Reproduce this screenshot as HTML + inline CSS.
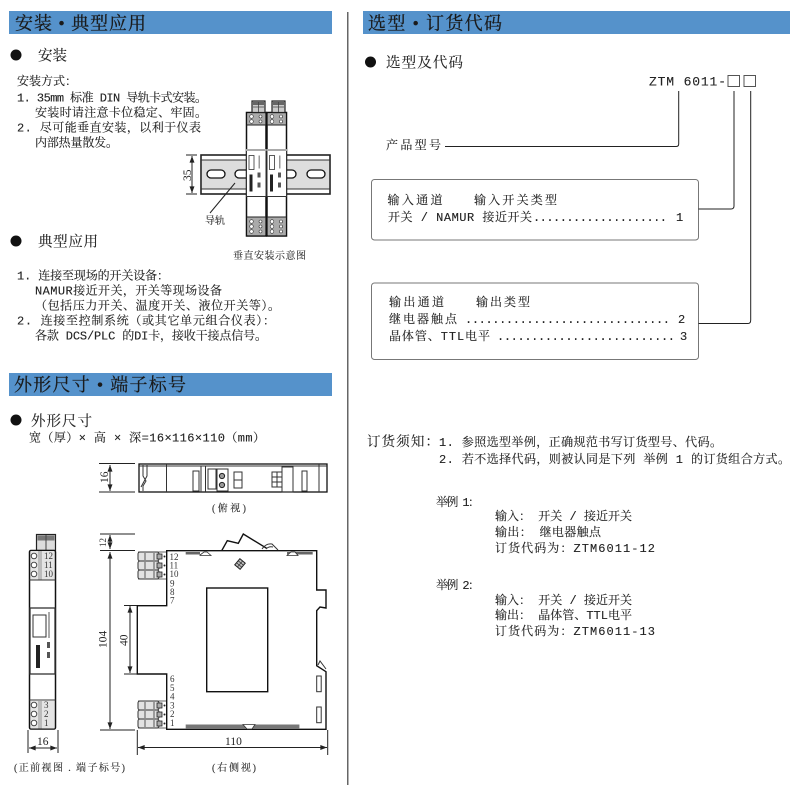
<!DOCTYPE html>
<html lang="zh">
<head>
<meta charset="utf-8">
<title>ZTM 6011</title>
<style>
html,body{margin:0;padding:0;background:#fff;width:790px;height:785px;overflow:hidden}
svg{display:block;position:absolute;left:0;top:0;filter:blur(.25px)}
text{font-family:"Liberation Mono","Noto Serif CJK SC",serif;fill:#222;font-size:12px;stroke:#222;stroke-width:.12}
.h{font-family:"Liberation Serif","Noto Serif CJK SC",serif;font-size:18px;fill:#1a1a1a;stroke:#1a1a1a;stroke-width:.25}
.s{font-family:"Liberation Serif","Noto Serif CJK SC",serif;font-size:14.5px;fill:#222}
.t{font-family:"Liberation Serif","Noto Serif CJK SC",serif;font-size:9px;fill:#333;stroke:none}
.d{font-family:"Liberation Serif","Noto Serif CJK SC",serif;font-size:11.5px;fill:#222;stroke:none}
.c{font-family:"Liberation Serif","Noto Serif CJK SC",serif;font-size:10px;fill:#333}
.l{fill:none;stroke:#222;stroke-width:1}
.b{fill:none;stroke:#111;stroke-width:1.4}
.g{fill:none;stroke:#333;stroke-width:1}
</style>
</head>
<body>
<svg width="790" height="785" viewBox="0 0 790 785" xmlns="http://www.w3.org/2000/svg">
<defs>
<marker id="a" viewBox="0 0 8 6" refX="8" refY="3" markerWidth="7" markerHeight="5" orient="auto-start-reverse" markerUnits="userSpaceOnUse"><path d="M0 0L8 3L0 6Z" fill="#222"/></marker>
<g id="mod">
  <rect x="0" y="0" width="19.5" height="123.5" fill="#fff" stroke="#111" stroke-width="1.5"/>
  <rect x="1" y="1" width="17.5" height="12" fill="#aaa"/>
  <rect x="1" y="105" width="17.5" height="17.5" fill="#aaa"/>
  <g fill="#fff" stroke="#333" stroke-width=".6">
    <circle cx="5" cy="4" r="1.8"/><circle cx="5" cy="9" r="1.8"/>
    <circle cx="5" cy="109" r="1.8"/><circle cx="5" cy="114" r="1.8"/><circle cx="5" cy="119" r="1.8"/>
    <circle cx="14" cy="4" r="1.5"/><circle cx="14" cy="9" r="1.5"/>
    <circle cx="14" cy="109" r="1.5"/><circle cx="14" cy="114" r="1.5"/><circle cx="14" cy="119" r="1.5"/>
  </g>
  <path d="M0 12.5H19.5M0 104.5H19.5" stroke="#222"/>
  <rect x="0" y="38" width="19.5" height="46" fill="#fff" stroke="#333"/>
  <rect x="2.5" y="43" width="5" height="14" fill="#fff" stroke="#333" stroke-width=".8"/>
  <rect x="3" y="62" width="3" height="17" fill="#222"/>
  <rect x="12" y="43" width="1.5" height="13" fill="#999"/>
  <rect x="11" y="60" width="3" height="5" fill="#555"/>
  <rect x="11" y="70" width="3" height="5" fill="#555"/>
  <rect x="-.5" y="36.5" width="20.5" height="2" fill="#aaa"/>
</g>
<g id="plug">
  <rect x="0" y="0" width="13" height="11.5" fill="#ccc" stroke="#222" stroke-width="1.2"/>
  <rect x="1" y="1" width="11" height="3" fill="#666"/>
  <path d="M6.5 1V11M1 6H12" stroke="#444" stroke-width=".8"/>
</g>
<g id="term">
  <path d="M1 0H29M1 27H29" stroke="#333" stroke-width=".8"/>
  <rect x="1" y="0" width="21" height="9" rx="2" fill="#e2e2e2" stroke="#333"/>
  <rect x="1" y="9" width="21" height="9" rx="2" fill="#e2e2e2" stroke="#333"/>
  <rect x="1" y="18" width="21" height="9" rx="2" fill="#e2e2e2" stroke="#333"/>
  <path d="M8 1V8M8 10V17M8 19V26M17 1V8M17 10V17M17 19V26" stroke="#333" stroke-width=".8"/>
  <g fill="#aaa" stroke="#222" stroke-width=".8">
    <rect x="20" y="2" width="5" height="5"/><rect x="20" y="11" width="5" height="5"/><rect x="20" y="20" width="5" height="5"/>
  </g>
  <g fill="#222"><circle cx="27.5" cy="4.5" r="1"/><circle cx="27.5" cy="13.5" r="1"/><circle cx="27.5" cy="22.5" r="1"/></g>
</g>
</defs>

<!-- headers -->
<rect x="9" y="11" width="323" height="23" fill="#5592cb"/>
<rect x="9" y="373" width="323" height="23" fill="#5592cb"/>
<rect x="363" y="11" width="427" height="23" fill="#5592cb"/>
<rect x="347" y="12" width="1.5" height="773" fill="#666"/>
<text class="h" x="15" y="29.5" textLength="131">安装 • 典型应用</text>
<text class="h" x="14" y="391" textLength="172">外形尺寸 • 端子标号</text>
<text class="h" x="368" y="29.5" textLength="134">选型 • 订货代码</text>

<!-- left: install -->
<circle cx="16" cy="55" r="5.5" fill="#111"/>
<text class="s" x="38" y="60.5" textLength="29">安装</text>
<text x="17" y="85" textLength="60">安装方式&#xFF1A;</text>
<text x="17" y="101.5" textLength="190">1. 35mm 标准 DIN 导轨卡式安装。</text>
<text x="35" y="116.5" textLength="172">安装时请注意卡位稳定、牢固。</text>
<text x="17" y="131.5" textLength="184">2. 尽可能垂直安装&#xFF0C;以利于仪表</text>
<text x="35" y="146.5" textLength="83">内部热量散发。</text>

<circle cx="16" cy="241" r="5.5" fill="#111"/>
<text class="s" x="38" y="246.5" textLength="60">典型应用</text>
<text x="17" y="279.5" textLength="152">1. 连接至现场的开关设备&#xFF1A;</text>
<text x="35" y="294.5" textLength="187">NAMUR接近开关&#xFF0C;开关等现场设备</text>
<text x="35" y="309.5" textLength="245">&#xFF08;包括压力开关、温度开关、液位开关等&#xFF09;。</text>
<text x="17" y="324.5" textLength="258">2. 连接至控制系统&#xFF08;或其它单元组合仪表&#xFF09;&#xFF1A;</text>
<text x="35" y="339.5" textLength="232">各款 DCS/PLC 的DI卡&#xFF0C;接收干接点信号。</text>

<!-- rail -->
<rect x="201" y="155" width="129" height="39" fill="#fff" stroke="#222" stroke-width="1.6"/>
<rect x="202" y="160" width="127" height="29" fill="#ddd"/>
<path d="M201 160H330M201 189H330" stroke="#333"/>
<rect x="207" y="170" width="18" height="8" rx="4" fill="#fff" stroke="#111" stroke-width="1.3"/>
<rect x="235" y="170" width="18" height="8" rx="4" fill="#fff" stroke="#111" stroke-width="1.3"/>
<rect x="278" y="170" width="18" height="8" rx="4" fill="#fff" stroke="#111" stroke-width="1.3"/>
<rect x="307" y="170" width="18" height="8" rx="4" fill="#fff" stroke="#111" stroke-width="1.3"/>
<use href="#mod" x="246.5" y="112.5"/>
<use href="#mod" x="267" y="112.5"/>
<use href="#plug" x="252" y="101"/>
<use href="#plug" x="272" y="101"/>
<path class="l" d="M186 155H197M186 194H197"/>
<path class="l" d="M192 156V193" marker-start="url(#a)" marker-end="url(#a)"/>
<text class="d" transform="translate(191 181) rotate(-90)">35</text>
<path class="l" d="M235 183L210 213"/>
<text class="c" x="205" y="224" textLength="20">导轨</text>
<text class="c" x="233" y="259" textLength="73">垂直安装示意图</text>

<!-- left: dims -->
<circle cx="16" cy="420" r="5.5" fill="#111"/>
<text class="s" x="31" y="426" textLength="61">外形尺寸</text>
<text x="29" y="441.5" textLength="236">宽&#xFF08;厚&#xFF09;× 高 × 深=16×116×110&#xFF08;mm&#xFF09;</text>

<!-- top view -->
<path class="l" d="M99 463.5H135M99 492H135"/>
<path class="l" d="M110 465V491" marker-start="url(#a)" marker-end="url(#a)"/>
<text class="d" transform="translate(108 483) rotate(-90)">16</text>
<rect x="139" y="464" width="188" height="28" fill="#fff" stroke="#111" stroke-width="1.3"/>
<path class="g" d="M139 466H327M143 465V476L146 481L143 486V491M147 465V476L141 487M166.5 464V492M193 471H199V491H193ZM201 466V492M205.5 466V492M208 469H216V489H208ZM217 469H228V491H217ZM234 472H242V488H234ZM234 480H242M272 472H282V487H272ZM272 477H282M272 482H282M277 472V487M282 467H293V492H282ZM302 471H307V491H302ZM319 464V492"/>
<circle cx="222" cy="476" r="2.6" fill="#999" stroke="#222"/>
<circle cx="222" cy="485" r="2.6" fill="#999" stroke="#222"/>
<text class="c" x="212" y="511.5" textLength="34">(俯视)</text>

<!-- front view -->
<g>
  <rect x="36.5" y="534.5" width="19" height="16" fill="#ddd" stroke="#222" stroke-width="1.2"/>
  <rect x="37.5" y="535.5" width="17" height="5" fill="#777"/>
  <path d="M46 535V550" stroke="#444"/>
  <rect x="29.5" y="550.5" width="26" height="178.5" rx="1.5" fill="#fff" stroke="#111" stroke-width="1.5"/>
  <rect x="30.5" y="551" width="24" height="29" fill="#e4e4e4"/>
  <rect x="30.5" y="701" width="24" height="27.5" fill="#e4e4e4"/>
  <rect x="38" y="551" width="4" height="29" fill="#bbb"/>
  <rect x="38" y="701" width="4" height="27.5" fill="#bbb"/>
  <path d="M29.5 580H55.5M29.5 700H55.5" stroke="#333"/>
  <rect x="30" y="608" width="25" height="66" fill="#fff" stroke="#333" stroke-width="1.3"/>
  <rect x="33" y="615" width="13" height="22" fill="#fff" stroke="#333"/>
  <rect x="36" y="645" width="4" height="23" fill="#222"/>
  <rect x="48" y="612" width="2" height="26" fill="#aaa"/>
  <rect x="47" y="642" width="3" height="6" fill="#555"/>
  <rect x="47" y="652" width="3" height="6" fill="#555"/>
  <g fill="#fff" stroke="#333" stroke-width=".9">
    <circle cx="34" cy="556" r="2.8"/><circle cx="34" cy="565" r="2.8"/><circle cx="34" cy="574" r="2.8"/>
    <circle cx="34" cy="705" r="2.8"/><circle cx="34" cy="714" r="2.8"/><circle cx="34" cy="723" r="2.8"/>
  </g>
  <text class="t" x="44" y="559">12</text>
  <text class="t" x="44" y="568">11</text>
  <text class="t" x="44" y="577">10</text>
  <text class="t" x="44" y="708">3</text>
  <text class="t" x="44" y="717">2</text>
  <text class="t" x="44" y="726">1</text>
</g>
<path class="l" d="M28 730V753M58 730V753"/>
<path class="l" d="M29 748H57" marker-start="url(#a)" marker-end="url(#a)"/>
<text class="d" x="37" y="745">16</text>
<text class="c" x="14" y="771" textLength="111">(正前视图 . 端子标号)</text>

<!-- middle dims -->
<path class="l" d="M100 534H135M100 550.5H135M100 730H135"/>
<path class="l" d="M110 535V549" marker-start="url(#a)" marker-end="url(#a)"/>
<path class="l" d="M110 552V729" marker-start="url(#a)" marker-end="url(#a)"/>
<text class="t" transform="translate(106 547) rotate(-90)">12</text>
<text class="d" transform="translate(106.5 648) rotate(-90)">104</text>

<!-- side view -->
<use href="#term" x="137" y="552"/>
<use href="#term" x="137" y="701"/>
<path class="b" d="M221.7 550.7L227.3 540.7L238.3 543.3L243.3 534L266.7 548.3"/>
<path class="g" d="M262 549Q266 543 272 544L278 550M266 549Q269 546 273 547"/>
<path class="b" d="M166.7 550.7H316.7V590H326V608L320 607L316.7 610.7V665.7L326 671.7V729.3H166.7V674H137.3V605.7H166.7Z"/>
<path class="g" d="M318 665L320 661L326 669"/>
<rect x="206.7" y="588" width="61" height="103.7" fill="none" stroke="#111" stroke-width="1.4"/>
<rect x="316.7" y="676" width="4.5" height="15.7" fill="#fff" stroke="#333"/>
<rect x="316.7" y="707" width="4.5" height="15.7" fill="#fff" stroke="#333"/>
<path d="M185.7 552H200V554.5H185.7ZM287 552H312.7V554.5H287Z" fill="#666"/>
<path d="M200 555L204 552H207L211 555.5H200ZM287 555.5L291 552H295L298 555.5Z" fill="#fff" stroke="#333" stroke-width=".8"/>
<rect x="185.7" y="724.5" width="113.7" height="4.5" fill="#777"/>
<path d="M243 724.5H255L252 729H247Z" fill="#fff" stroke="#333" stroke-width=".8"/>
<g transform="translate(240 564) rotate(40)"><rect x="-3.5" y="-4" width="7" height="8" fill="#bbb" stroke="#222"/><path d="M-3.5 -1.3H3.5M-3.5 1.3H3.5M0 -4V4" stroke="#222" stroke-width=".6"/></g>
<text class="t" x="169.5" y="560">12</text>
<text class="t" x="169.5" y="568.5">11</text>
<text class="t" x="169.5" y="577">10</text>
<text class="t" x="170" y="586.5">9</text>
<text class="t" x="170" y="595">8</text>
<text class="t" x="170" y="603.5">7</text>
<text class="t" x="170" y="682">6</text>
<text class="t" x="170" y="691">5</text>
<text class="t" x="170" y="699.5">4</text>
<text class="t" x="170" y="708.5">3</text>
<text class="t" x="170" y="717">2</text>
<text class="t" x="170" y="726">1</text>
<path class="l" d="M124 605.5H137M124 674H137"/>
<path class="l" d="M130 606V673" marker-start="url(#a)" marker-end="url(#a)"/>
<text class="d" transform="translate(127.5 646) rotate(-90)">40</text>
<path class="l" d="M137.3 730V755M327.7 730V755"/>
<path class="l" d="M138 747.5H327" marker-start="url(#a)" marker-end="url(#a)"/>
<text class="d" x="225" y="745">110</text>
<text class="c" x="212" y="771" textLength="44">(右侧视)</text>

<!-- right: selection -->
<circle cx="370.5" cy="62" r="5.5" fill="#111"/>
<text class="s" x="386" y="67.5" textLength="77">选型及代码</text>
<text x="649" y="85.5" textLength="77" style="font-size:13px">ZTM 6011-</text>
<rect x="728" y="75.5" width="11.5" height="11" fill="none" stroke="#555"/>
<rect x="744" y="75.5" width="11.5" height="11" fill="none" stroke="#555"/>
<text x="386" y="149" textLength="55">产品型号</text>
<path class="l" d="M445 146.5H676Q678.7 146.5 678.7 144V91"/>
<rect x="371.5" y="179.5" width="327" height="60.5" rx="3" fill="none" stroke="#777"/>
<rect x="371.5" y="283" width="327" height="76.5" rx="3" fill="none" stroke="#777"/>
<path class="l" d="M698.5 209H731Q734 209 734 206V91"/>
<path class="l" d="M698.5 323.5H748Q750.7 323.5 750.7 320V91"/>
<text x="387.5" y="204" textLength="55">输入通道</text>
<text x="474" y="204" textLength="83">输入开关类型</text>
<text x="388" y="221" textLength="144">开关 / NAMUR 接近开关</text>
<text x="533" y="221" textLength="134">....................</text>
<text x="676" y="221">1</text>
<text x="389" y="306" textLength="55">输出通道</text>
<text x="476" y="306" textLength="54">输出类型</text>
<text x="389" y="323" textLength="68">继电器触点</text>
<text x="465" y="323" textLength="205">..............................</text>
<text x="678" y="323">2</text>
<text x="389" y="340" textLength="101">晶体管、TTL电平</text>
<text x="497" y="340" textLength="178">..........................</text>
<text x="680" y="340">3</text>

<!-- right: notes -->
<text x="367" y="446" style="font-size:13.5px" textLength="72">订货须知&#xFF1A;</text>
<text x="439" y="446" textLength="283">1. 参照选型举例&#xFF0C;正确规范书写订货型号、代码。</text>
<text x="439" y="463" textLength="351">2. 若不选择代码&#xFF0C;则被认同是下列 举例 1 的订货组合方式。</text>
<text x="436" y="506" textLength="44">举例 1&#xFF1A;</text>
<text x="495" y="520" textLength="137">输入&#xFF1A; 开关 / 接近开关</text>
<text x="495" y="536" textLength="106">输出&#xFF1A; 继电器触点</text>
<text x="495" y="552" textLength="160">订货代码为&#xFF1A;ZTM6011-12</text>
<text x="436" y="589" textLength="44">举例 2&#xFF1A;</text>
<text x="495" y="604" textLength="137">输入&#xFF1A; 开关 / 接近开关</text>
<text x="495" y="619" textLength="137">输出&#xFF1A; 晶体管、TTL电平</text>
<text x="495" y="635" textLength="160">订货代码为&#xFF1A;ZTM6011-13</text>
</svg>
</body>
</html>
